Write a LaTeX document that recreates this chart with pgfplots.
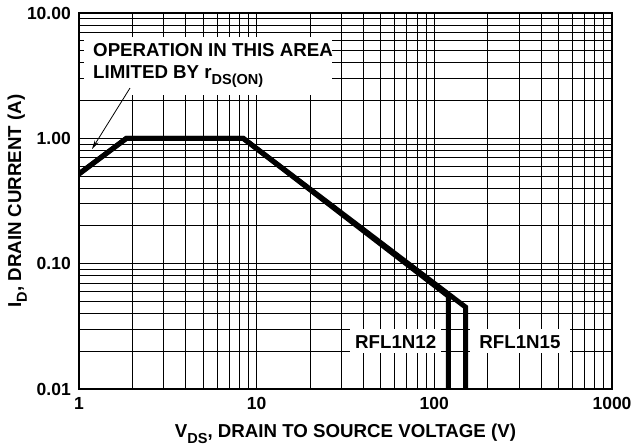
\documentclass[border=0pt]{standalone}
\usepackage{fontspec}
\setmainfont{Liberation Sans}
\usepackage{pgfplots}
\pgfplotsset{compat=1.18}
\usetikzlibrary{arrows.meta}
\newcommand\lbl{\fontsize{18.7bp}{21bp}\selectfont\bfseries}
\newcommand\tlbl{\fontsize{17.5bp}{20bp}\selectfont\bfseries}
\newcommand\sub[1]{\raisebox{-0.32em}{\fontsize{14.5bp}{15bp}\selectfont #1}}
\begin{document}
\begin{tikzpicture}
\begin{axis}[
 scale only axis, width=533bp, height=376bp,
 at={(0,0)}, anchor=south west,
 xmode=log, ymode=log, xmin=1, xmax=1000, ymin=0.01, ymax=10,
 xtick={1,10,100,1000}, xticklabels={1,10,100,1000},
 ytick={0.01,0.1,1,10}, yticklabels={0.01,0.10,1.00,10.00},
 grid=both,
 major grid style={black, line width=1bp},
 minor grid style={black, line width=1bp},
 major tick length=0pt, minor tick length=0pt,
 axis line style={black, line width=1.3bp},
 /pgf/number format/assume math mode=true,
 tick label style={font=\tlbl},
 xticklabel style={anchor=north, inner sep=0pt, yshift=-8bp},
 yticklabel style={anchor=east, inner sep=0pt, xshift=-8bp},
 xlabel={V\sub{DS}, DRAIN TO SOURCE VOLTAGE (V)},
 ylabel={I\sub{D}, DRAIN CURRENT (A)},
 xlabel style={font=\lbl, at={(axis description cs:0.5,-0.1303)}, anchor=base, inner sep=0pt},
 ylabel style={font=\lbl, at={(axis description cs:-0.1088,0.5)}, anchor=base, rotate=0, inner sep=0pt},
]
% white label boxes over the grid
\fill[white] (rel axis cs:0.0094,0.782) rectangle (rel axis cs:0.4747,0.936);
\node[anchor=base west, font=\lbl, inner sep=0pt] at (rel axis cs:0.0263,0.8856) {OPERATION IN THIS AREA};
\node[anchor=base west, font=\lbl, inner sep=0pt] at (rel axis cs:0.0263,0.8245) {LIMITED BY r\sub{DS(ON)}};
\draw[line width=0.8bp, -{Stealth[length=9bp, width=4.5bp]}] (rel axis cs:0.0957,0.8005) -- (rel axis cs:0.0244,0.6383);
\fill[white] (rel axis cs:0.5084,0.0957) rectangle (rel axis cs:0.680,0.1596);
\node[anchor=base, font=\lbl, inner sep=0pt] at (rel axis cs:0.5942,0.109) {RFL1N12};
\fill[white] (rel axis cs:0.7336,0.0957) rectangle (rel axis cs:0.921,0.1596);
\node[anchor=base, font=\lbl, inner sep=0pt] at (rel axis cs:0.8273,0.109) {RFL1N15};
% SOA curves
\addplot[black, line width=5bp, line join=miter] coordinates {(1,0.52) (1.85,1) (8.4,1) (120,0.055) (120,0.01)};
\addplot[black, line width=5bp, line join=miter] coordinates {(1,0.52) (1.85,1) (8.4,1) (150,0.045) (150,0.01)};
\end{axis}
\pgfresetboundingbox
\useasboundingbox (-79bp,-58bp) rectangle (555bp,389bp);
\end{tikzpicture}
\end{document}
